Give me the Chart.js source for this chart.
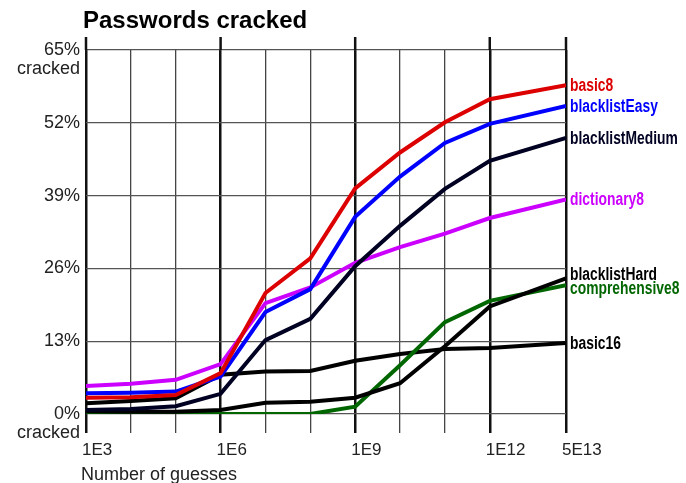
<!DOCTYPE html>
<html>
<head>
<meta charset="utf-8">
<script src="https://cdn.jsdelivr.net/npm/chart.js@4.4.0/dist/chart.umd.min.js"></script>
<style>
  body { margin: 0; background: #fff; }
  #wrap { width: 686px; height: 483px; position: relative; }
</style>
</head>
<body>
<div id="wrap"><canvas id="crackChart"></canvas></div>
<script>
// Guess counts (x) where each curve is sampled
const guesses = [1e3, 1e4, 1e5, 1e6, 1e7, 1e8, 1e9, 1e10, 1e11, 1e12, 5e13];

// Percent of passwords cracked
const basic8          = [2.9, 3.0, 3.4, 7.3, 21.6, 27.8, 40.3, 46.7, 52.1, 56.2, 58.7];
const blacklistEasy   = [3.7, 3.8, 4.0, 6.7, 18.2, 22.3, 35.2, 42.4, 48.4, 51.8, 55.0];
const blacklistMedium = [0.7, 0.9, 1.4, 3.6, 13.2, 17.0, 26.4, 33.6, 40.2, 45.2, 49.3];
const dictionary8     = [5.0, 5.4, 6.1, 8.9, 19.8, 22.6, 27.0, 29.8, 32.2, 35.0, 38.3];
const blacklistHard   = [0.5, 0.4, 0.4, 0.7, 2.0, 2.2, 2.9, 5.5, 12.1, 19.2, 24.2];
const comprehensive8  = [0, 0, 0, 0, 0, 0, 1.3, 8.7, 16.4, 20.2, 23.0];
const basic16         = [1.9, 2.3, 2.8, 7.0, 7.6, 7.7, 9.5, 10.7, 11.6, 11.8, 12.7];

// Axis ticks
const xGridValues = [1e3, 1e4, 1e5, 1e6, 1e7, 1e8, 1e9, 1e10, 1e11, 1e12, 5e13];
const xLabelValues = [1e3, 1e6, 1e9, 1e12, 5e13];
const xLabelText = ['1E3', '1E6', '1E9', '1E12', '5E13'];
const yTickValues = [0, 13, 26, 39, 52, 65];
const yTickLabels = ['0%', '13%', '26%', '39%', '52%', '65%'];

const thickX = [1e3, 1e6, 1e9, 1e12, 5e13];

const series = [
    { label: 'basic8', data: basic8, color: '#dd0000' },
    { label: 'blacklistEasy', data: blacklistEasy, color: '#0000ff' },
    { label: 'blacklistMedium', data: blacklistMedium, color: '#000022' },
    { label: 'dictionary8', data: dictionary8, color: '#cc00ff' },
    { label: 'blacklistHard', data: blacklistHard, color: '#000000' },
    { label: 'comprehensive8', data: comprehensive8, color: '#006600' },
    { label: 'basic16', data: basic16, color: '#000000' }
];

// small vertical nudges so the end labels don't collide
const labelNudge = { blacklistHard: -4, comprehensive8: 3 };

const axisFont = '"Liberation Sans", Arial, sans-serif';

// Title, x-axis title, extended thick lines above the plot, end-of-line labels
const decorPlugin = {
    id: 'decor',
    beforeDatasetsDraw(chart) {
        const { ctx, chartArea, scales } = chart;
        ctx.save();
        ctx.strokeStyle = '#111';
        ctx.lineWidth = 2.5;
        thickX.forEach(v => {
            const x = scales.x.getPixelForValue(v);
            ctx.beginPath();
            ctx.moveTo(x, chartArea.top - 13);
            ctx.lineTo(x, chartArea.top);
            ctx.stroke();
        });
        ctx.restore();
    },
    afterDatasetsDraw(chart) {
        const { ctx } = chart;
        ctx.save();
        // condensed bold look: squeeze a normal bold face horizontally
        ctx.font = 'bold 18px ' + axisFont;
        ctx.textBaseline = 'middle';
        ctx.textAlign = 'left';
        chart.data.datasets.forEach((ds, i) => {
            const meta = chart.getDatasetMeta(i);
            const last = meta.data[meta.data.length - 1];
            ctx.save();
            ctx.translate(last.x + 4, last.y + (labelNudge[ds.label] || 0));
            ctx.scale(0.77, 1);
            ctx.fillStyle = ds.borderColor;
            ctx.fillText(ds.label, 0, 1);
            ctx.restore();
        });
        ctx.fillStyle = '#000';
        ctx.font = 'bold 24px ' + axisFont;
        ctx.fillText('Passwords cracked', 83, 21);
        ctx.fillStyle = '#222';
        ctx.font = '18px ' + axisFont;
        ctx.textBaseline = 'alphabetic';
        ctx.fillText('Number of guesses', 81, 480);
        ctx.restore();
    }
};

const ctx = document.getElementById('crackChart').getContext('2d');
const crackChart = new Chart(ctx, {
    type: 'line',
    data: {
        datasets: series.map(s => ({
            label: s.label,
            data: guesses.map((g, i) => ({ x: g, y: s.data[i] })),
            borderColor: s.color,
            backgroundColor: s.color,
            borderWidth: 4,
            pointRadius: 0,
            tension: 0,
            fill: false
        }))
    },
    options: {
        responsive: true,
        maintainAspectRatio: false,
        animation: false,
        layout: { padding: { top: 50, right: 120, left: 0, bottom: 0 } },
        plugins: {
            legend: { display: false },
            tooltip: { enabled: false }
        },
        scales: {
            x: {
                type: 'logarithmic',
                min: 1e3,
                max: 5e13,
                afterBuildTicks: scale => {
                    scale.ticks = xGridValues.map(v => ({ value: v }));
                },
                afterFit: scale => { scale.height = 69; },
                border: { display: false },
                grid: {
                    tickLength: 19,
                    color: ctx => (ctx.tick && thickX.includes(ctx.tick.value)) ? '#111' : '#444',
                    lineWidth: ctx => (ctx.tick && thickX.includes(ctx.tick.value)) ? 2.5 : 1.3
                },
                ticks: {
                    autoSkip: false,
                    maxRotation: 0,
                    align: 'start',
                    labelOffset: -4,
                    padding: 7,
                    color: '#222',
                    font: { family: axisFont, size: 17 },
                    callback: v => {
                        const k = xLabelValues.indexOf(v);
                        return k >= 0 ? xLabelText[k] : '';
                    }
                }
            },
            y: {
                min: 0,
                max: 65,
                afterBuildTicks: scale => {
                    scale.ticks = yTickValues.map(v => ({ value: v }));
                },
                afterFit: scale => { scale.width = 86; },
                border: { display: false },
                grid: {
                    drawTicks: false,
                    color: '#555',
                    lineWidth: 1.3
                },
                ticks: {
                    padding: 6,
                    color: '#222',
                    labelOffset: 9.5,
                    font: { family: axisFont, size: 18, lineHeight: 1.05 },
                    callback: v => {
                        const k = yTickValues.indexOf(v);
                        const extra = (v === 0 || v === 65) ? 'cracked' : '';
                        return [yTickLabels[k], extra];
                    }
                }
            }
        }
    },
    plugins: [decorPlugin]
});
</script>
</body>
</html>
